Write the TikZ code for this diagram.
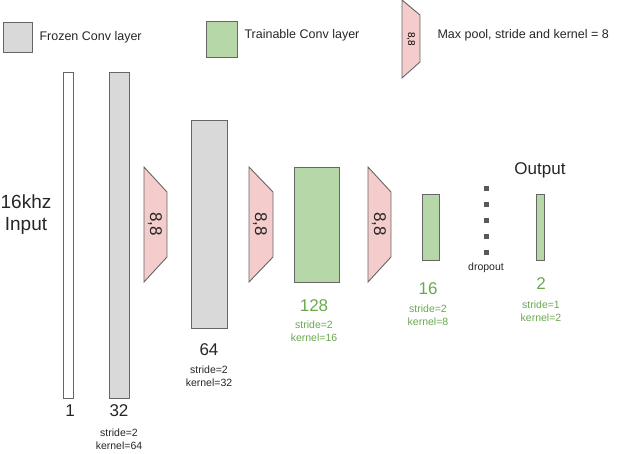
\documentclass[tikz,border=0pt]{standalone}
\usepackage{fontspec}
\setmainfont{Liberation Sans}
\begin{document}
\begin{tikzpicture}[x=1pt,y=-1pt,
  box/.style={draw=black!60,line width=0.9pt},
  frozen/.style={box,fill=black!15},
  train/.style={box,fill={rgb,255:red,182;green,215;blue,168}},
  pool/.style={box,fill={rgb,255:red,244;green,204;blue,204}},
  big/.style={font=\fontsize{17}{19}\selectfont,text=black!85},
  small/.style={font=\fontsize{10.5}{13}\selectfont,align=center,text=black!85},
  gtxt/.style={text={rgb,255:red,106;green,168;blue,79}},
  leg/.style={font=\fontsize{12.5}{14}\selectfont,anchor=west,text=black!85}]
\useasboundingbox (0,0) rectangle (640,453);
% legend
\draw[frozen] (3,22) rectangle (32,52);
\node[leg] (l1) at (36,37) {Frozen Conv layer};
\draw[train] (206,21) rectangle (237,57);
\node[leg] (l2) at (241,35) {Trainable Conv layer};
\draw[pool] (402,0) -- (420,15) -- (420,62) -- (402,78) -- cycle;
\node[font=\fontsize{10}{11}\selectfont,rotate=-90] (lp) at (411,39) {8,8};
\node[leg] (l3) at (434,35) {Max pool, stride and kernel = 8};
% layers
\draw[box,fill=white] (63,72) rectangle (73,398);
\draw[frozen] (109,72) rectangle (129,398);
\draw[pool] (144,167) -- (167,192) -- (167,257) -- (144,282) -- cycle;
\node[big,rotate=-90] (p1) at (155,224) {8,8};
\draw[frozen] (191,120) rectangle (227,328);
\draw[pool] (249,167) -- (273,192) -- (273,257) -- (249,282) -- cycle;
\node[big,rotate=-90] (p2) at (260,224) {8,8};
\draw[train] (294,167) rectangle (339,282);
\draw[pool] (368,167) -- (391,192) -- (391,257) -- (368,282) -- cycle;
\node[big,rotate=-90] (p3) at (379,224) {8,8};
\draw[train] (422,194) rectangle (439,260);
\foreach \y in {186,202,218,234,250} \fill[black!65] (484,\y) rectangle (489,\y+5);
\node[small] (dr) at (486,268) {dropout};
\draw[train] (536,194) rectangle (544,260);
% labels
\node[big,align=center,font=\fontsize{19}{22}\selectfont] (in) at (26,215) {16khz\\Input};
\node[big] (o) at (540,170) {Output};
\node[big] (n1) at (70,411) {1};
\node[big] (n32) at (119,411) {32};
\node[small] (s32) at (119,439) {stride=2\\kernel=64};
\node[big] (n64) at (209,350) {64};
\node[small] (s64) at (209,376) {stride=2\\kernel=32};
\node[big,gtxt] (n128) at (314,306) {128};
\node[small,gtxt] (s128) at (314,331) {stride=2\\kernel=16};
\node[big,gtxt] (n16) at (428,289) {16};
\node[small,gtxt] (s16) at (428,315) {stride=2\\kernel=8};
\node[big,gtxt] (n2) at (541,284) {2};
\node[small,gtxt] (s2) at (541,311) {stride=1\\kernel=2};
\end{tikzpicture}
\end{document}
